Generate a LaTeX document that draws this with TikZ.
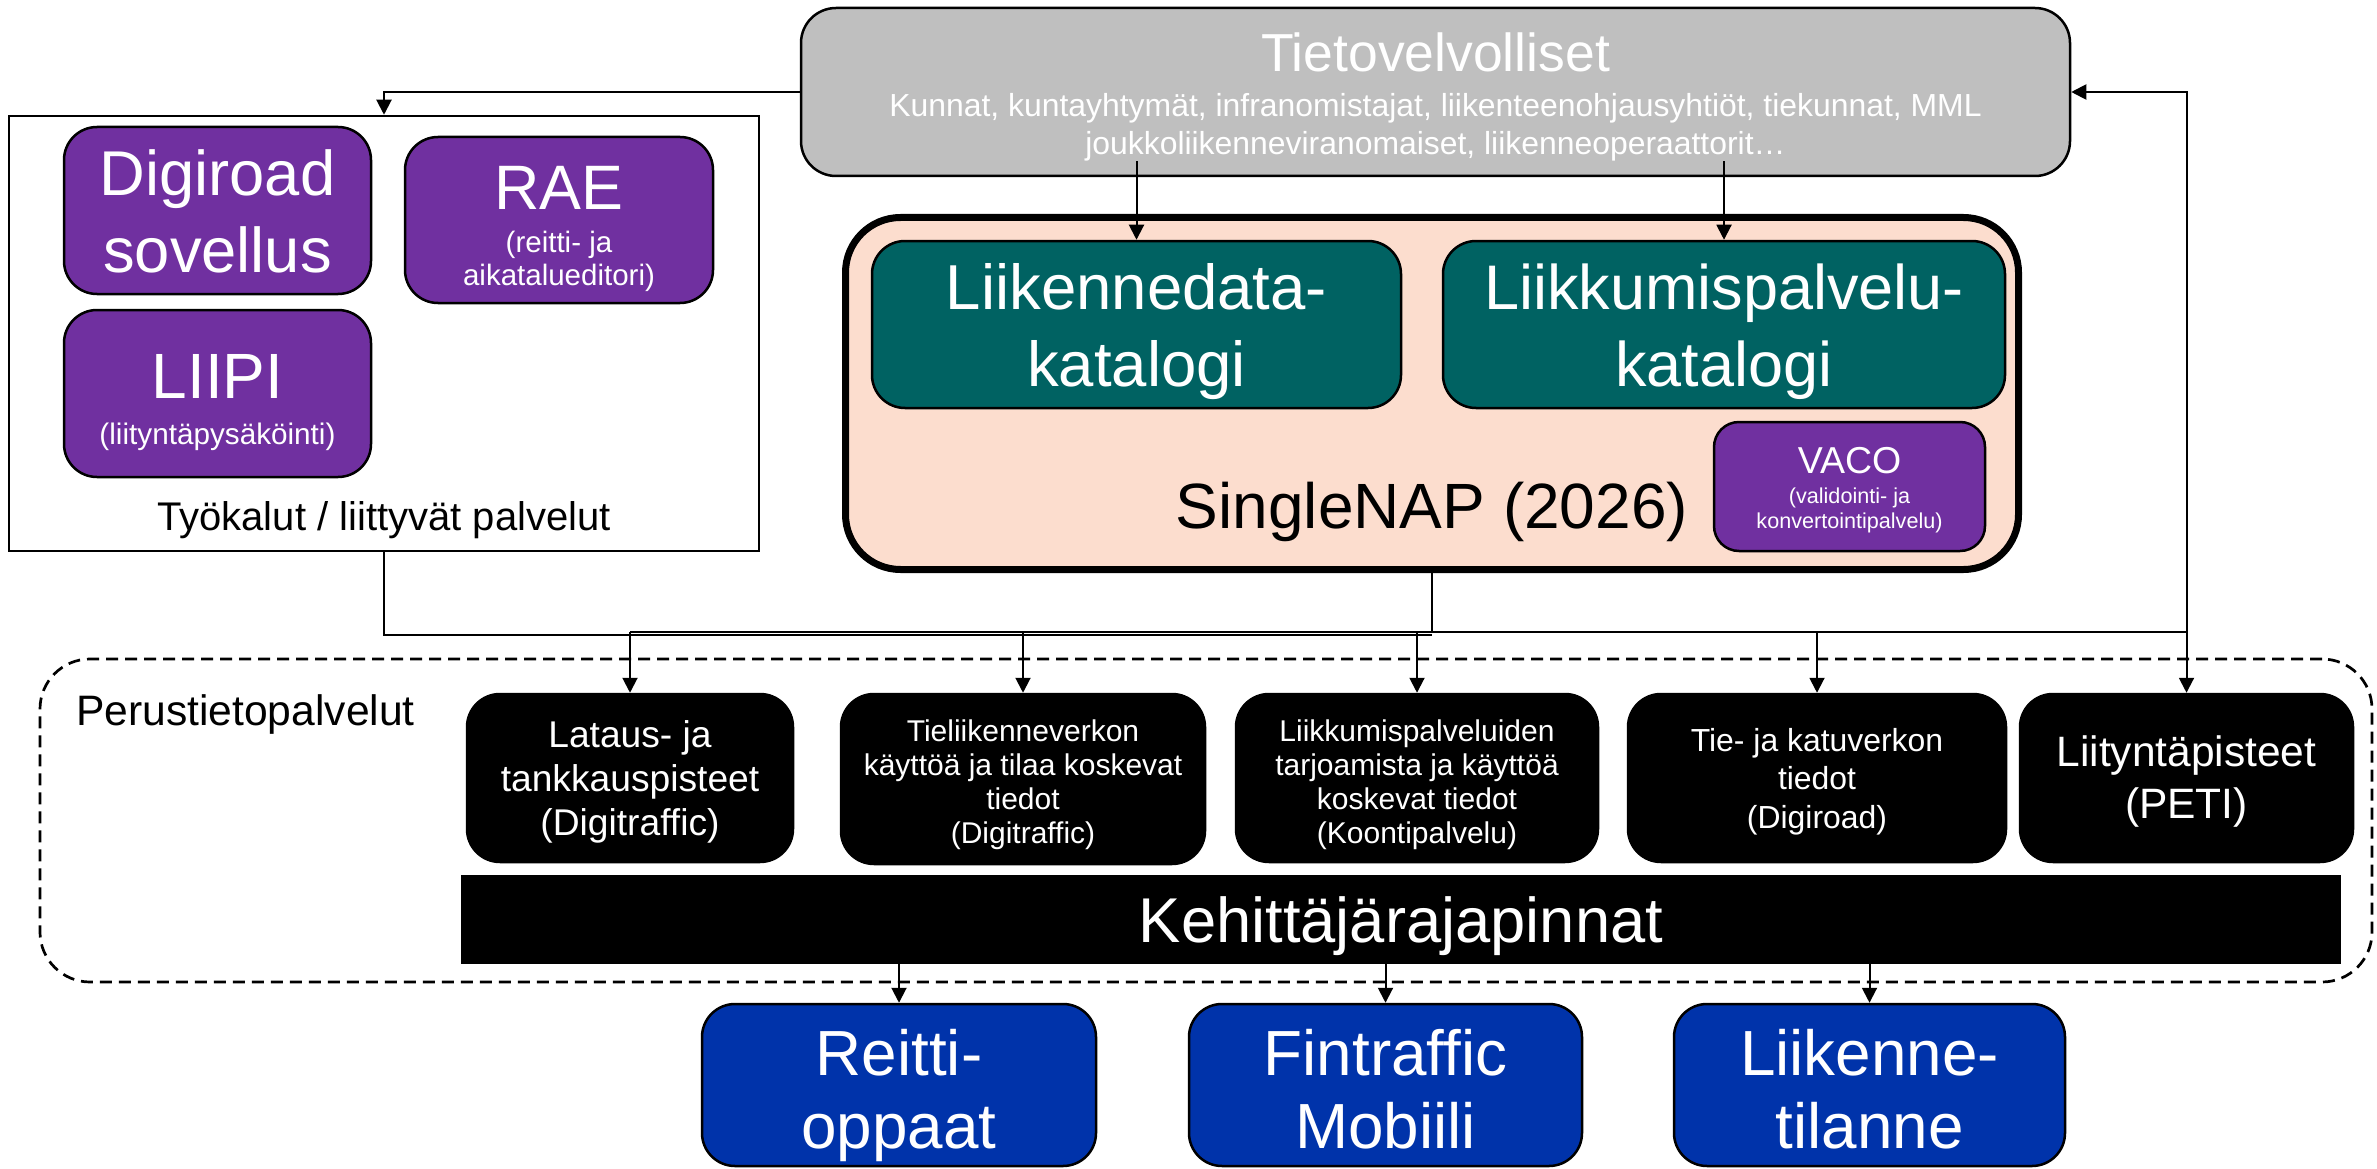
\documentclass[tikz,border=0pt]{standalone}
\usepackage{fontspec}
\setmainfont{Liberation Sans}
\usetikzlibrary{positioning, arrows.meta}
\definecolor{napteal}{RGB}{0,98,98}
\definecolor{vacopurple}{RGB}{112,48,160}
\definecolor{appblue}{RGB}{0,51,170}
\definecolor{nappeach}{RGB}{252,221,206}
\definecolor{tietogray}{RGB}{191,191,191}
\newcommand{\setfs}[2]{\fontsize{#1pt}{#2pt}\selectfont}
\tikzset{
    on grid,
    box/.style={draw=black, line width=2.5pt, rounded corners=33pt, inner sep=0pt, align=center, text=white},
    purplebox/.style={box, fill=vacopurple},
    tealbox/.style={box, fill=napteal},
    blackbox/.style={box, fill=black},
    bluebox/.style={box, fill=appblue, minimum height=162pt, node font=\setfs{63.8}{73}, baseup=126},
    baseup/.style={text height=#1pt, text depth=0pt},
    arr/.style={-{Triangle[length=15pt,width=15pt]}, line width=2pt},
    link/.style={line width=2pt},
}

\begin{document}
\begin{tikzpicture}[x=1pt, y=-1pt]
    \useasboundingbox (0,0) rectangle (2377,1169);

    % tietovelvolliset and tools
    \node[box, fill=tietogray, rounded corners=35pt, minimum width=1269pt, minimum height=168pt,
          node font=\setfs{31.9}{38}, baseup=126] (tieto) at (1435.5,92)
        {{\setfs{53.5}{60}Tietovelvolliset}\\[7pt]Kunnat, kuntayhtymät, infranomistajat, liikenteenohjausyhtiöt, tiekunnat, MML\\joukkoliikenneviranomaiset, liikenneoperaattorit…};
    \node[box, rounded corners=0pt, fill=white, text=black, minimum width=750pt, minimum height=435pt,
          node font=\setfs{40}{48}, baseup=393] (tyok) at (384,333.5) {Työkalut / liittyvät palvelut};
    \node[purplebox, minimum width=307pt, minimum height=167pt, node font=\setfs{63.3}{77}, baseup=123]
        (digi) at (217.5,210.5) {Digiroad\\sovellus};
    \node[purplebox, minimum width=308pt, minimum height=166pt, node font=\setfs{29.5}{33}, baseup=130]
        (rae) at (559,220) {{\setfs{62.8}{70}RAE}\\[10pt](reitti- ja\\aikatalueditori)};
    \node[purplebox, below=183pt of digi, minimum width=307pt, minimum height=167pt,
          node font=\setfs{29.7}{34}, baseup=101] (liipi) {{\setfs{64}{72}LIIPI}\\[12pt](liityntäpysäköinti)};

    % singlenap
    \node[box, fill=nappeach, text=black, line width=7pt, rounded corners=55pt, minimum width=1173pt,
          minimum height=352pt, node font=\setfs{64}{74}, baseup=269] (nap) at (1432,393.5) {SingleNAP (2026)};
    \node[tealbox, minimum width=529pt, minimum height=167pt, node font=\setfs{63.5}{77}, baseup=124]
        (ldk) at (1136.5,324.5) {Liikennedata-\\katalogi};
    \node[tealbox, right=587.5pt of ldk, minimum width=562pt, minimum height=167pt,
          node font=\setfs{63}{77}, baseup=124] (lpk) {Liikkumispalvelu-\\katalogi};
    \node[purplebox, rounded corners=25pt, minimum width=271pt, minimum height=129pt,
          node font=\setfs{21.6}{25}, baseup=83] (vaco) at (1849.5,486.5)
        {{\setfs{37.5}{42}VACO}\\[5pt](validointi- ja\\konvertointipalvelu)};

    % perustietopalvelut
    \node[draw, dash pattern=on 12pt off 7pt, line width=2.7pt, rounded corners=50pt,
          minimum width=2332pt, minimum height=323pt] (perus) at (1206,820.5) {};
    \node[anchor=base west, inner sep=0pt, node font=\setfs{42.6}{50}] (peruslbl) at (76,725) {Perustietopalvelut};
    \node[blackbox, minimum width=326pt, minimum height=168pt, node font=\setfs{37.2}{44}, baseup=114]
        (lataus) at (630,778) {Lataus- ja\\tankkauspisteet\\(Digitraffic)};
    \node[blackbox, minimum width=364pt, minimum height=170pt, node font=\setfs{30}{34}, baseup=128]
        (tieli) at (1023,779) {Tieliikenneverkon\\käyttöä ja tilaa koskevat\\tiedot\\(Digitraffic)};
    \node[blackbox, minimum width=362pt, minimum height=168pt, node font=\setfs{30}{34}, baseup=130]
        (liikk) at (1417,778) {Liikkumispalveluiden\\tarjoamista ja käyttöä\\koskevat tiedot\\(Koontipalvelu)};
    \node[blackbox, minimum width=378pt, minimum height=168pt, node font=\setfs{31.9}{38.5}, baseup=100]
        (katu) at (1817,778) {Tie- ja katuverkon\\tiedot\\(Digiroad)};
    \node[blackbox, minimum width=333pt, minimum height=168pt, node font=\setfs{42.5}{52}, baseup=81]
        (peti) at (2186.5,778) {Liityntäpisteet\\(PETI)};
    \node[blackbox, rounded corners=0pt, minimum width=1878pt, minimum height=87pt,
          node font=\setfs{63.3}{72}, baseup=45] (api) at (1401,919.5) {Kehittäjärajapinnat};

    % apps
    \node[bluebox, minimum width=394pt] (reitti) at (899,1085) {Reitti-\\oppaat};
    \node[bluebox, right=486.5pt of reitti, minimum width=393pt] (mobiili) {Fintraffic\\Mobiili};
    \node[bluebox, right=484pt of mobiili, minimum width=391pt] (tilanne) {Liikenne-\\tilanne};

    \coordinate (bus) at (0,632);
    \coordinate (bus2) at (0,635);

    \draw[arr] (tieto.west) -| (tyok.north);
    \draw[arr] ([yshift=16pt]tieto.south -| ldk.north) -- (ldk.north);
    \draw[arr] ([yshift=16pt]tieto.south -| lpk.north) -- (lpk.north);
    \draw[link] (tyok.south) |- (bus2 -| nap.south);
    \draw[link] (nap.south) -- (bus -| nap.south);
    \draw[link] (bus -| lataus.north) -- (bus -| peti.north);
    \foreach \b in {lataus, tieli, liikk, katu, peti}
        \draw[arr] (bus -| \b.north) -- (\b.north);
    \draw[arr] (bus -| peti.north) |- (tieto.east);
    \foreach \b in {reitti, mobiili, tilanne}
        \draw[arr] (api.south -| \b.north) -- (\b.north);
\end{tikzpicture}
\end{document}
